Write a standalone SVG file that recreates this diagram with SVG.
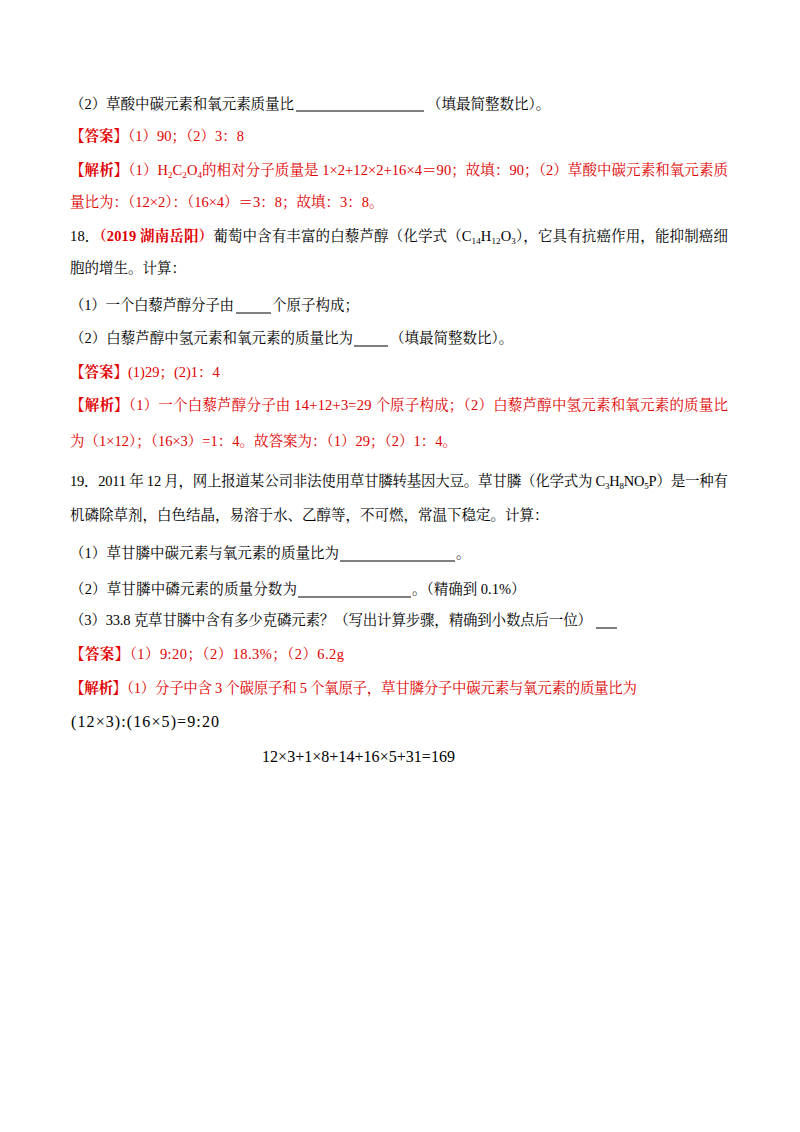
<svg xmlns="http://www.w3.org/2000/svg" width="800" height="1132" viewBox="0 0 800 1132">
<style>
text{font-family:"Liberation Serif","Noto Serif CJK SC","Noto Sans CJK SC",serif;font-size:14.5px;fill:#000}
.r{fill:#e00000}
.b{font-weight:bold}
.s{font-size:9px}
.m{font-family:"Liberation Serif",serif;font-size:16px}
line{stroke:#000;stroke-width:1}
</style>
<rect width="800" height="1132" fill="#fff"/>
<g id="q17">
<text x="70" y="109" textLength="224">（2）草酸中碳元素和氧元素质量比</text>
<line x1="296" y1="111" x2="424" y2="111"/>
<text x="427" y="109">（填最简整数比）。</text>
<text x="70" y="141" class="r"><tspan class="b">【答案】</tspan>（1）90；（2）3：8</text>
<text x="70" y="175" class="r" textLength="658"><tspan class="b">【解析】</tspan>（1）H<tspan class="s" dy="3">2</tspan><tspan dy="-3">C</tspan><tspan class="s" dy="3">2</tspan><tspan dy="-3">O</tspan><tspan class="s" dy="3">4</tspan><tspan dy="-3">的相对分子质量是 1×2+12×2+16×4＝90；故填：90；（2）草酸中碳元素和氧元素质</tspan></text>
<text x="70" y="207" class="r">量比为：（12×2）：（16×4）＝3：8；故填：3：8。</text>
</g>
<g id="q18">
<text x="70" y="241" textLength="658">18．<tspan class="r b">（2019 湖南岳阳）</tspan>葡萄中含有丰富的白藜芦醇（化学式（C<tspan class="s" dy="3">14</tspan><tspan dy="-3">H</tspan><tspan class="s" dy="3">12</tspan><tspan dy="-3">O</tspan><tspan class="s" dy="3">3</tspan><tspan dy="-3">），它具有抗癌作用，能抑制癌细</tspan></text>
<text x="70" y="273">胞的增生。计算：</text>
<text x="70" y="310" textLength="164">（1）一个白藜芦醇分子由</text>
<line x1="236" y1="313" x2="271" y2="313"/>
<text x="272" y="310">个原子构成；</text>
<text x="70" y="343" textLength="283">（2）白藜芦醇中氢元素和氧元素的质量比为</text>
<line x1="354" y1="346" x2="388" y2="346"/>
<text x="390" y="343">（填最简整数比）。</text>
<text x="70" y="377" class="r"><tspan class="b">【答案】</tspan>(1)29；(2)1：4</text>
<text x="70" y="410" class="r" textLength="658"><tspan class="b">【解析】</tspan>（1）一个白藜芦醇分子由 14+12+3=29 个原子构成；（2）白藜芦醇中氢元素和氧元素的质量比</text>
<text x="70" y="446" class="r">为（1×12）；（16×3）=1：4。故答案为：（1）29；（2）1：4。</text>
</g>
<g id="q19">
<text x="70" y="486" textLength="658">19．2011 年 12 月，网上报道某公司非法使用草甘膦转基因大豆。草甘膦（化学式为 C<tspan class="s" dy="3">3</tspan><tspan dy="-3">H</tspan><tspan class="s" dy="3">8</tspan><tspan dy="-3">NO</tspan><tspan class="s" dy="3">5</tspan><tspan dy="-3">P）是一种有</tspan></text>
<text x="70" y="520">机磷除草剂，白色结晶，易溶于水、乙醇等，不可燃，常温下稳定。计算：</text>
<text x="70" y="558" textLength="269">（1）草甘膦中碳元素与氧元素的质量比为</text>
<line x1="340" y1="561" x2="455" y2="561"/>
<text x="456" y="558">。</text>
<text x="70" y="594" textLength="227">（2）草甘膦中磷元素的质量分数为</text>
<line x1="298" y1="597" x2="411" y2="597"/>
<text x="412" y="594">。（精确到 0.1%）</text>
<text x="70" y="625" textLength="522">（3）33.8 克草甘膦中含有多少克磷元素？（写出计算步骤，精确到小数点后一位）</text>
<line x1="596" y1="628" x2="617" y2="628"/>
<text x="70" y="659" class="r" textLength="274"><tspan class="b">【答案】</tspan>（1）9:20；（2）18.3%；（2）6.2g</text>
<text x="70" y="693" class="r" textLength="567"><tspan class="b">【解析】</tspan>（1）分子中含 3 个碳原子和 5 个氧原子，草甘膦分子中碳元素与氧元素的质量比为</text>
<text x="71" y="727" class="m" textLength="148">(12×3):(16×5)=9:20</text>
<text x="70" y="692" class="r" style="display:none"> </text>
<text x="262" y="762" class="m" textLength="193">12×3+1×8+14+16×5+31=169</text>
<text x="70" y="780" class="r" textLength="183" style="display:none"> </text>
</g>
<g id="q19b">
<text x="70" y="781" class="r" style="display:none"> </text>
</g>
</svg>
